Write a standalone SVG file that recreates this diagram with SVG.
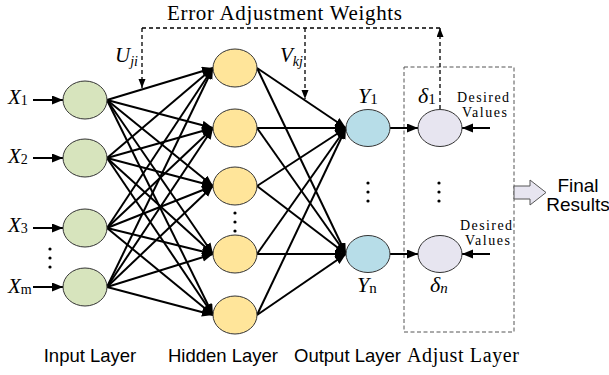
<svg xmlns="http://www.w3.org/2000/svg" width="609" height="375" viewBox="0 0 609 375">
<defs>
<marker id="arr" markerUnits="userSpaceOnUse" markerWidth="12" markerHeight="10" refX="11" refY="4.5" orient="auto"><path d="M0,0 L11,4.5 L0,9 z" fill="#000"/></marker>
<marker id="darr" markerUnits="userSpaceOnUse" markerWidth="10" markerHeight="9" refX="9" refY="3.5" orient="auto"><path d="M0,0 L9,3.5 L0,7 z" fill="#000"/></marker>
<style>
.n{stroke:#333;stroke-width:1}
.in{fill:#d7e4bd}.hid{fill:#ffe59a}.out{fill:#b7dde8}.adj{fill:#e7e5f0}
.c{stroke:#000;stroke-width:2;fill:none;marker-end:url(#arr)}
.d{stroke:#000;stroke-width:1.3;fill:none;stroke-dasharray:4 3}
.da{marker-end:url(#darr)}
.serif{font-family:"Liberation Serif","Times New Roman",serif;fill:#000}
.it{font-style:italic}
.sans{font-family:"Liberation Sans",Arial,sans-serif;fill:#000}
.dot{fill:#000}
</style>
</defs>
<rect width="609" height="375" fill="#fff"/>

<!-- dashed adjust box -->
<rect x="404" y="67" width="110" height="265" fill="none" stroke="#555" stroke-width="1" stroke-dasharray="4 2.5"/>

<g id="connectors">
<!-- input arrows -->
<line class="c" x1="33" y1="100" x2="63" y2="100"/>
<line class="c" x1="33" y1="158" x2="63" y2="158"/>
<line class="c" x1="33" y1="228" x2="63" y2="228"/>
<line class="c" x1="33" y1="287" x2="63" y2="287"/>
<!-- input to hidden -->
<line class="c" x1="107" y1="100" x2="213" y2="68"/>
<line class="c" x1="107" y1="100" x2="213" y2="128"/>
<line class="c" x1="107" y1="100" x2="213" y2="186"/>
<line class="c" x1="107" y1="100" x2="213" y2="254"/>
<line class="c" x1="107" y1="100" x2="213" y2="315"/>
<line class="c" x1="107" y1="158" x2="213" y2="68"/>
<line class="c" x1="107" y1="158" x2="213" y2="128"/>
<line class="c" x1="107" y1="158" x2="213" y2="186"/>
<line class="c" x1="107" y1="158" x2="213" y2="254"/>
<line class="c" x1="107" y1="158" x2="213" y2="315"/>
<line class="c" x1="107" y1="228" x2="213" y2="68"/>
<line class="c" x1="107" y1="228" x2="213" y2="128"/>
<line class="c" x1="107" y1="228" x2="213" y2="186"/>
<line class="c" x1="107" y1="228" x2="213" y2="254"/>
<line class="c" x1="107" y1="228" x2="213" y2="315"/>
<line class="c" x1="107" y1="287" x2="213" y2="68"/>
<line class="c" x1="107" y1="287" x2="213" y2="128"/>
<line class="c" x1="107" y1="287" x2="213" y2="186"/>
<line class="c" x1="107" y1="287" x2="213" y2="254"/>
<line class="c" x1="107" y1="287" x2="213" y2="315"/>
<!-- hidden to output -->
<line class="c" x1="257" y1="68" x2="346" y2="128"/>
<line class="c" x1="257" y1="68" x2="346" y2="254"/>
<line class="c" x1="257" y1="128" x2="346" y2="128"/>
<line class="c" x1="257" y1="128" x2="346" y2="254"/>
<line class="c" x1="257" y1="186" x2="346" y2="128"/>
<line class="c" x1="257" y1="186" x2="346" y2="254"/>
<line class="c" x1="257" y1="254" x2="346" y2="128"/>
<line class="c" x1="257" y1="254" x2="346" y2="254"/>
<line class="c" x1="257" y1="315" x2="346" y2="128"/>
<line class="c" x1="257" y1="315" x2="346" y2="254"/>
<!-- output to adjust -->
<line class="c" x1="390" y1="128" x2="418" y2="128"/>
<line class="c" x1="390" y1="254" x2="418" y2="254"/>
<!-- desired values -->
<line class="c" x1="490" y1="128" x2="462" y2="128"/>
<line class="c" x1="490" y1="254" x2="462" y2="254"/>
<!-- error feedback -->
<path class="d" d="M142,28 L440,28"/>
<path class="d da" d="M440,109 L440,28"/>
<path class="d da" d="M142,28 L142,88"/>
<path class="d da" d="M305,28 L305,99"/>
</g>

<g id="input-1"><ellipse class="n in" cx="85" cy="100" rx="22" ry="19"/><text class="serif" y="104" font-size="21"><tspan class="it" x="8">X</tspan><tspan font-size="14" dy="1">1</tspan></text></g>
<g id="input-2"><ellipse class="n in" cx="85" cy="158" rx="22" ry="19"/><text class="serif" y="163" font-size="21"><tspan class="it" x="8">X</tspan><tspan font-size="14" dy="1">2</tspan></text></g>
<g id="input-3"><ellipse class="n in" cx="85" cy="228" rx="22" ry="19"/><text class="serif" y="232" font-size="21"><tspan class="it" x="8">X</tspan><tspan font-size="14" dy="1">3</tspan></text></g>
<g id="input-m"><ellipse class="n in" cx="85" cy="287" rx="22" ry="19"/><text class="serif" y="293" font-size="21"><tspan class="it" x="8">X</tspan><tspan font-size="14" dy="1">m</tspan></text></g>
<g id="input-dots"><circle class="dot" cx="50" cy="249" r="1.6"/><circle class="dot" cx="50" cy="258" r="1.6"/><circle class="dot" cx="50" cy="267" r="1.6"/></g>

<g id="hidden-1"><ellipse class="n hid" cx="235" cy="68" rx="22" ry="19"/></g>
<g id="hidden-2"><ellipse class="n hid" cx="235" cy="128" rx="22" ry="19"/></g>
<g id="hidden-3"><ellipse class="n hid" cx="235" cy="186" rx="22" ry="19"/></g>
<g id="hidden-4"><ellipse class="n hid" cx="235" cy="254" rx="22" ry="19"/></g>
<g id="hidden-5"><ellipse class="n hid" cx="235" cy="315" rx="22" ry="19"/></g>
<g id="hidden-dots"><circle class="dot" cx="235" cy="213" r="1.6"/><circle class="dot" cx="235" cy="222" r="1.6"/><circle class="dot" cx="235" cy="231" r="1.6"/></g>

<g id="output-1"><ellipse class="n out" cx="368" cy="128" rx="22" ry="18.5"/><text class="serif" y="103" font-size="22"><tspan class="it" x="358">Y</tspan><tspan font-size="15" dy="1">1</tspan></text></g>
<g id="output-n"><ellipse class="n out" cx="368" cy="254" rx="22" ry="18.5"/><text class="serif" y="292" font-size="22"><tspan class="it" x="357">Y</tspan><tspan font-size="15" dy="1">n</tspan></text></g>
<g id="output-dots"><circle class="dot" cx="368" cy="183" r="1.6"/><circle class="dot" cx="368" cy="192" r="1.6"/><circle class="dot" cx="368" cy="201" r="1.6"/></g>

<g id="adjust-1"><ellipse class="n adj" cx="440" cy="128" rx="22" ry="18.5"/><text class="serif" y="103" font-size="22"><tspan class="it" x="418">δ</tspan><tspan font-size="15" dy="1">1</tspan></text>
<text class="serif" font-size="14" x="457" y="102" textLength="52">Desired</text><text class="serif" font-size="14" x="462" y="117" textLength="45">Values</text></g>
<g id="adjust-n"><ellipse class="n adj" cx="440" cy="254" rx="22" ry="18.5"/><text class="serif" y="292" font-size="22"><tspan class="it" x="430">δ</tspan><tspan class="it" font-size="15" dy="1">n</tspan></text>
<text class="serif" font-size="14" x="460" y="230" textLength="52">Desired</text><text class="serif" font-size="14" x="465" y="245" textLength="45">Values</text></g>
<g id="adjust-dots"><circle class="dot" cx="439" cy="183" r="1.6"/><circle class="dot" cx="439" cy="192" r="1.6"/><circle class="dot" cx="439" cy="201" r="1.6"/></g>

<g id="final-results">
<path d="M514,186 L530,186 L530,180 L546,192.5 L530,205 L530,199 L514,199 z" fill="#e7e5f0" stroke="#555" stroke-width="1"/>
<text class="sans" font-size="19" x="578" y="192" text-anchor="middle">Final</text>
<text class="sans" font-size="19" x="578" y="211" text-anchor="middle">Results</text>
</g>

<g id="labels">
<text class="serif" font-size="21" x="284.5" y="20" text-anchor="middle" textLength="235">Error Adjustment Weights</text>
<text class="serif" y="62" font-size="21"><tspan class="it" x="115">U</tspan><tspan class="it" font-size="14" dy="4">ji</tspan></text>
<text class="serif" y="62" font-size="21"><tspan class="it" x="280">V</tspan><tspan class="it" font-size="14" dy="4">kj</tspan></text>
<text class="sans" font-size="18.5" x="90" y="362" text-anchor="middle">Input Layer</text>
<text class="sans" font-size="18.5" x="223" y="362" text-anchor="middle">Hidden Layer</text>
<text class="sans" font-size="18.5" x="347.5" y="362" text-anchor="middle">Output Layer</text>
<text class="serif" font-size="20" x="463" y="362" text-anchor="middle" textLength="112">Adjust Layer</text>
</g>
</svg>
